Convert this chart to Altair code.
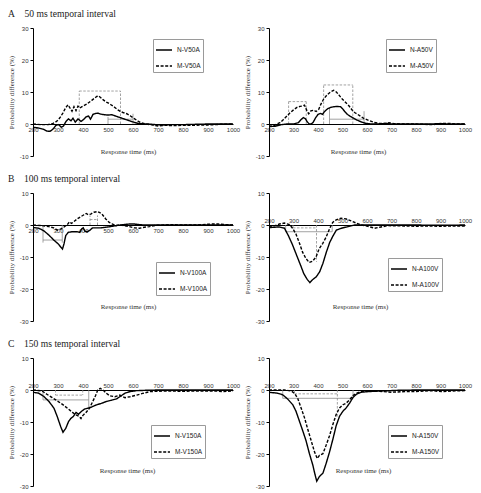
import altair as alt
import pandas as pd

# Shared axis ticks
TIME_TICKS = [200, 300, 400, 500, 600, 700, 800, 900, 1000]
Y_TICKS_POS = [-10, 0, 10, 20, 30]
Y_TICKS_NEG = [-30, -20, -10, 0, 10]

# ---------------- A: 50 ms temporal interval ----------------
v50a_n_t = [200, 220, 240, 255, 268, 280, 292, 303, 313, 322, 332, 342, 352, 360, 369, 380, 392, 402,
            412, 422, 430, 440, 450, 460, 470, 485, 500, 515, 530, 545, 560, 575, 590, 605, 620, 640,
            660, 690, 720, 760, 800, 850, 900, 950, 1000]
v50a_n_v = [-1.0, -1.2, -1.6, -2.2, -2.3, -1.6, -0.4, -0.2, -1.0, -0.6, 0.8, 1.6, 1.0, 1.8, 0.6, 1.6,
            0.8, 1.4, 2.2, 2.5, 1.5, 3.0, 3.3, 3.4, 3.1, 2.9, 2.8, 2.9, 2.5, 2.1, 1.7, 1.3, 0.9, 0.5,
            0.2, 0.0, 0.0, -0.2, -0.3, -0.2, -0.2, -0.1, 0.0, 0.0, 0.0]
v50a_m_t = [200, 230, 260, 280, 290, 300, 310, 320, 330, 340, 348, 356, 364, 372, 380, 388, 396, 405,
            415, 425, 435, 445, 455, 462, 470, 480, 490, 500, 510, 520, 530, 540, 550, 560, 575, 590,
            605, 620, 635, 650, 670, 700, 730, 760, 800, 850, 900, 950, 1000]
v50a_m_v = [0.0, -0.2, -0.2, 0.2, 0.6, 1.2, 2.2, 3.5, 5.0, 6.0, 5.0, 4.0, 5.4, 4.2, 5.6, 5.0, 5.4, 5.8,
            6.2, 6.8, 7.4, 8.0, 8.6, 8.8, 8.3, 7.6, 7.0, 6.6, 6.1, 5.6, 5.0, 4.4, 3.9, 3.6, 3.2, 2.5,
            1.7, 0.9, 0.3, 0.0, -0.2, -0.6, -0.4, -0.5, -0.4, -0.4, -0.3, -0.1, 0.0]
v50a_solid = [(500, 1.5, 600, 1.5), (500, 0, 500, 2.2), (600, 0, 600, 3.2)]
v50a_dashed = [(385, 10.3, 550, 10.3), (385, 0, 385, 10.3), (550, 0, 550, 10.3)]

a50v_n_t = [200, 225, 250, 275, 300, 320, 330, 340, 348, 356, 364, 372, 380, 390, 400, 410, 418, 428,
            440, 452, 465, 478, 492, 500, 510, 520, 532, 545, 560, 575, 590, 605, 620, 650, 680, 700,
            750, 800, 850, 900, 950, 1000]
a50v_n_v = [-0.8, -0.7, -0.2, 0.0, 0.0, 0.4, 1.3, 2.0, 1.7, 0.7, 0.0, 0.0, 0.5, 1.9, 3.0, 3.3, 3.0,
            4.0, 4.8, 5.2, 5.4, 5.5, 5.4, 4.8, 3.8, 3.0, 2.4, 1.8, 1.2, 0.7, 0.3, 0.1, 0.0, 0.0, 0.2,
            0.0, 0.0, 0.0, 0.0, 0.1, 0.0, 0.0]
a50v_m_t = [200, 215, 232, 245, 259, 273, 286, 300, 314, 327, 337, 345, 355, 362, 371, 382, 392, 403,
            412, 423, 437, 451, 464, 475, 485, 499, 512, 526, 540, 551, 560, 574, 588, 608, 629, 649,
            677, 690, 711, 750, 800, 868, 903, 930, 964, 1000]
a50v_m_v = [-0.6, -0.7, 0.0, 0.4, 1.4, 2.5, 3.5, 4.4, 5.2, 5.5, 5.6, 5.9, 4.1, 3.2, 4.1, 4.3, 3.9, 4.6,
            6.2, 7.8, 9.1, 10.0, 10.5, 10.0, 9.1, 7.8, 6.8, 5.7, 4.3, 3.5, 3.1, 2.4, 1.7, 1.1, 0.5,
            0.2, 0.2, 0.4, 0.1, 0.0, 0.0, -0.2, 0.2, 0.2, 0.0, 0.0]
a50v_solid = [(447, 1.5, 588, 1.5), (447, 0, 447, 5.0), (588, 0, 588, 4.0)]
a50v_dashed = [(280, 7.0, 352, 7.0), (280, 0, 280, 7.0), (352, 0, 352, 7.0),
               (423, 12.2, 542, 12.2), (423, 0, 423, 12.2), (542, 0, 542, 12.2)]

# ---------------- B: 100 ms temporal interval ----------------
v100a_n_t = [200, 223, 243, 263, 283, 301, 310, 318, 324, 331, 341, 357, 377, 387, 395, 401, 408, 417,
             428, 438, 451, 471, 491, 511, 532, 558, 585, 605, 626, 652, 700, 800, 900, 1000]
v100a_n_v = [-0.8, -1.0, -1.8, -3.1, -4.7, -5.9, -6.8, -7.5, -5.9, -3.3, -2.3, -2.1, -2.1, -2.3, -1.2,
             -0.9, -2.0, -2.1, -1.6, -0.9, -0.9, -0.9, -0.7, -0.5, -0.2, 0.1, 0.3, 0.3, 0.1, 0.0, 0.0,
             0.0, 0.0, 0.0]
v100a_m_t = [200, 236, 263, 283, 297, 310, 323, 337, 346, 354, 364, 377, 391, 404, 413, 421, 431, 444,
             458, 467, 478, 491, 505, 518, 532, 545, 565, 585, 605, 626, 646, 666, 693, 746, 800, 854,
             914, 941, 975, 1000]
v100a_m_v = [0.0, -0.2, -0.5, -0.9, -1.6, -1.3, -0.7, 0.1, 1.0, 0.5, 1.1, 1.9, 2.6, 3.2, 3.6, 3.2, 3.4,
             4.0, 4.2, 3.9, 3.2, 1.9, 0.8, 0.3, -0.2, 0.1, -0.2, -0.5, -0.9, -1.0, -0.7, -0.5, -0.1,
             0.1, 0.0, 0.0, 0.3, 0.3, 0.1, 0.0]
v100a_solid = [(240, -4.7, 317, -4.7), (240, 0, 240, -5.5), (317, 0, 317, -5.5)]
v100a_dashed = [(428, 1.7, 458, 1.7), (428, 0, 428, 3.0), (458, 0, 458, 3.0)]

a100v_n_t = [200, 242, 263, 279, 296, 313, 329, 342, 356, 367, 379, 393, 407, 420, 434, 448, 462, 475,
             496, 523, 550, 600, 700, 800, 900, 1000]
a100v_n_v = [-0.8, -0.6, -1.0, -3.3, -6.2, -9.5, -12.6, -15.2, -17.0, -18.0, -17.0, -16.2, -14.6,
             -12.0, -8.5, -5.4, -3.3, -1.6, -1.0, -0.5, 0.0, 0.0, 0.0, 0.0, -0.1, 0.0]
a100v_m_t = [200, 225, 242, 263, 284, 296, 310, 323, 337, 351, 364, 378, 392, 405, 419, 433, 447, 460,
             474, 494, 515, 535, 556, 576, 603, 631, 652, 686, 750, 800, 850, 900, 950, 1000]
a100v_m_v = [-0.4, -0.2, 0.3, 0.6, 0.1, -1.0, -2.8, -5.4, -8.5, -10.5, -11.7, -11.3, -10.0, -7.4, -5.8,
             -3.8, -1.2, 0.8, 1.6, 2.1, 1.9, 1.3, 0.6, 0.0, -0.4, -1.0, -0.7, -0.2, -0.3, -0.4, -0.3,
             -0.4, -0.3, -0.3]
a100v_solid = [(268, -2.1, 458, -2.1), (268, 0, 268, -2.1), (458, 0, 458, -2.1)]
a100v_dashed = [(298, -0.9, 394, -0.9), (298, 0, 298, -0.9), (394, 0, 394, -11.5)]

# ---------------- C: 150 ms temporal interval ----------------
v150a_n_t = [200, 223, 243, 264, 284, 297, 311, 320, 331, 342, 351, 361, 372, 382, 392, 405, 419, 432,
             446, 459, 473, 493, 514, 534, 547, 568, 588, 615, 650, 700, 800, 900, 1000]
v150a_n_v = [-0.7, -1.0, -2.0, -3.6, -5.7, -8.3, -11.5, -13.2, -12.0, -9.9, -8.9, -8.3, -7.0, -7.6,
             -6.8, -6.0, -5.7, -5.4, -4.9, -4.5, -4.2, -3.6, -3.2, -2.8, -2.1, -1.0, -0.5, -0.2, -0.1,
             0.0, 0.0, 0.0, 0.0]
v150a_m_t = [200, 236, 257, 277, 297, 318, 338, 358, 372, 385, 392, 399, 412, 426, 439, 450, 459, 469,
             480, 493, 507, 527, 547, 568, 588, 615, 642, 669, 723, 800, 850, 926, 960, 1000]
v150a_m_v = [0.0, -0.3, -1.4, -2.4, -3.4, -4.5, -5.7, -7.0, -7.8, -8.3, -8.9, -8.0, -7.0, -5.7, -3.6,
             -1.8, 0.0, 0.5, 0.0, -1.0, -1.8, -2.1, -1.6, -2.4, -2.1, -1.6, -1.0, -0.5, -0.3, -0.4,
             -0.3, -0.3, -0.5, -0.3]
v150a_solid = [(240, -3.1, 423, -3.1), (240, 0, 240, -3.1), (423, 0, 423, -6.2)]
v150a_dashed = [(290, -1.6, 399, -1.6), (290, 0, 290, -1.6), (399, 0, 399, -1.6)]

a150v_n_t = [200, 235, 256, 276, 297, 310, 324, 338, 351, 365, 379, 388, 395, 406, 420, 433, 447, 461,
             474, 488, 502, 515, 529, 543, 557, 577, 604, 658, 727, 800, 900, 1000]
a150v_n_v = [-0.7, -1.0, -1.5, -2.8, -4.6, -6.6, -9.7, -12.8, -15.8, -19.9, -23.5, -26.5, -28.5, -27.0,
             -26.0, -23.0, -19.4, -15.3, -11.2, -8.2, -6.6, -5.6, -4.1, -2.3, -1.3, -0.7, -0.5, -0.3,
             -0.1, 0.0, 0.0, 0.0]
a150v_m_t = [200, 263, 290, 304, 317, 331, 345, 358, 372, 386, 397, 406, 420, 433, 447, 461, 474, 488,
             502, 515, 529, 543, 557, 577, 604, 631, 700, 755, 795, 864, 905, 946, 1000]
a150v_m_v = [0.0, 0.0, -0.3, -1.0, -2.6, -5.6, -8.7, -12.2, -15.8, -19.4, -21.4, -20.4, -19.9, -17.3,
             -14.3, -10.7, -7.7, -5.6, -4.6, -4.1, -3.1, -1.7, -1.0, -0.5, -0.2, -0.3, -0.7, -0.5,
             -0.5, -0.2, -0.5, -0.3, -0.2]
a150v_solid = [(256, -2.6, 543, -2.6), (256, 0, 256, -2.6), (543, 0, 543, -2.6)]
a150v_dashed = [(304, -1.2, 479, -1.2), (304, 0, 304, -1.2), (479, 0, 479, -8.5)]

# ---------------- styling ----------------
LABEL_FONT = "Liberation Sans"
SERIF = "Liberation Serif"
TEXT = "#333333"
GUIDE = "#8c8c8c"
H = 128
W_LEFT, W_RIGHT = 200, 196


def segments(segs):
    return pd.DataFrame(segs, columns=["t", "v", "t2", "v2"])


def panel(n_label, n_t, n_v, m_label, m_t, m_v, solid, dashed, y_dom, y_ticks, width,
          legend_xy, labels_above, xtitle_xy, row_title=None):
    zero_px = H * y_dom[1] / (y_dom[1] - y_dom[0])
    lines = pd.concat([
        pd.DataFrame({"t": n_t, "v": n_v, "series": n_label}),
        pd.DataFrame({"t": m_t, "v": m_v, "series": m_label}),
    ], ignore_index=True)

    x_axis = alt.Axis(
        orient="top" if labels_above else "bottom",
        offset=-zero_px if labels_above else zero_px - H,
        values=TIME_TICKS, ticks=False, grid=False,
        domainColor="black", domainWidth=1,
        labelFont=LABEL_FONT, labelFontSize=6, labelColor=TEXT, labelPadding=2,
        labelFlush=False, labelOverlap=False, labelExpr="'' + datum.value",
        title="Response time (ms)", titleFont=SERIF, titleFontSize=7,
        titleFontWeight="normal", titleColor=TEXT,
        titleX=xtitle_xy[0], titleY=xtitle_xy[1],
        titleAlign="center", titleBaseline="middle",
    )
    y_axis = alt.Axis(
        values=y_ticks, grid=False, domainColor="black", domainWidth=1,
        tickColor="black", tickSize=3, tickWidth=1,
        labelFont=LABEL_FONT, labelFontSize=6, labelColor=TEXT, labelPadding=2,
        labelExpr="'' + datum.value",
        title="Probability difference (%)", titleFont=SERIF, titleFontSize=7,
        titleFontWeight="normal", titleColor=TEXT,
        titleX=-22, titleY=H / 2, titleAngle=270,
        titleAlign="center", titleBaseline="middle",
    )
    x_enc = alt.X("t:Q", scale=alt.Scale(domain=[200, 1000], nice=False, zero=False), axis=x_axis)
    y_enc = alt.Y("v:Q", scale=alt.Scale(domain=y_dom, nice=False, zero=False), axis=y_axis)

    solid_rules = alt.Chart(segments(solid)).mark_rule(color=GUIDE, strokeWidth=0.8).encode(
        x=x_enc, y=y_enc, x2="t2:Q", y2="v2:Q")
    dashed_rules = alt.Chart(segments(dashed)).mark_rule(
        color=GUIDE, strokeWidth=0.8, strokeDash=[2.5, 1.5]).encode(
        x=x_enc, y=y_enc, x2="t2:Q", y2="v2:Q")

    curves = alt.Chart(lines).mark_line(color="black", strokeWidth=1.4).encode(
        x=x_enc, y=y_enc,
        strokeDash=alt.StrokeDash(
            "series:N",
            scale=alt.Scale(domain=[n_label, m_label], range=[[1, 0], [3, 1.6]]),
            legend=alt.Legend(
                title=None, orient="none", legendX=legend_xy[0], legendY=legend_xy[1],
                symbolType="stroke", symbolSize=256, symbolStrokeWidth=1.4,
                symbolStrokeColor="black",
                labelFont=LABEL_FONT, labelFontSize=6.5, labelColor="#222222", labelOffset=4,
                strokeColor="#9a9a9a", fillColor="white", padding=2, rowPadding=3,
            ),
        ),
        order="t:Q",
    )

    chart = alt.layer(solid_rules, dashed_rules, curves).properties(width=width, height=H)
    if row_title:
        chart = chart.properties(title=alt.TitleParams(
            row_title, anchor="start", frame="group", dx=-25, offset=-3.5,
            font=SERIF, fontSize=9.6, fontWeight="normal", color="#222222", baseline="bottom"))
    return chart


a_left = panel("N-V50A", v50a_n_t, v50a_n_v, "M-V50A", v50a_m_t, v50a_m_v, v50a_solid, v50a_dashed,
               [-10, 30], Y_TICKS_POS, W_LEFT, (120, 11), False, (95, 27),
               "A\u00a0\u00a0\u00a0 50 ms temporal interval")
a_right = panel("N-A50V", a50v_n_t, a50v_n_v, "M-A50V", a50v_m_t, a50v_m_v, a50v_solid, a50v_dashed,
                [-10, 30], Y_TICKS_POS, W_RIGHT, (117, 11), False, (89, 27))
b_left = panel("N-V100A", v100a_n_t, v100a_n_v, "M-V100A", v100a_m_t, v100a_m_v, v100a_solid,
               v100a_dashed, [-30, 10], Y_TICKS_NEG, W_LEFT, (123, 69), False, (95, 81),
               "B\u00a0\u00a0\u00a0 100 ms temporal interval")
b_right = panel("N-A100V", a100v_n_t, a100v_n_v, "M-A100V", a100v_m_t, a100v_m_v, a100v_solid,
                a100v_dashed, [-30, 10], Y_TICKS_NEG, W_RIGHT, (119, 65), True, (91, 81))
c_left = panel("N-V150A", v150a_n_t, v150a_n_v, "M-V150A", v150a_m_t, v150a_m_v, v150a_solid,
               v150a_dashed, [-30, 10], Y_TICKS_NEG, W_LEFT, (118, 67), True, (94, 80),
               "C\u00a0\u00a0\u00a0 150 ms temporal interval")
c_right = panel("N-A150V", a150v_n_t, a150v_n_v, "M-A150V", a150v_m_t, a150v_m_v, a150v_solid,
                a150v_dashed, [-30, 10], Y_TICKS_NEG, W_RIGHT, (119, 67), True, (94, 80))

chart = alt.concat(
    a_left, a_right, b_left, b_right, c_left, c_right,
    columns=2, spacing={"row": 37, "column": 36}, bounds="flush",
).resolve_scale(strokeDash="independent").resolve_legend(strokeDash="independent").properties(
    padding={"left": 7, "top": 8, "right": 5, "bottom": 3},
    background="white",
).configure_view(strokeWidth=0)

chart.save("out.html", embed_options={"renderer": "svg", "actions": False})
